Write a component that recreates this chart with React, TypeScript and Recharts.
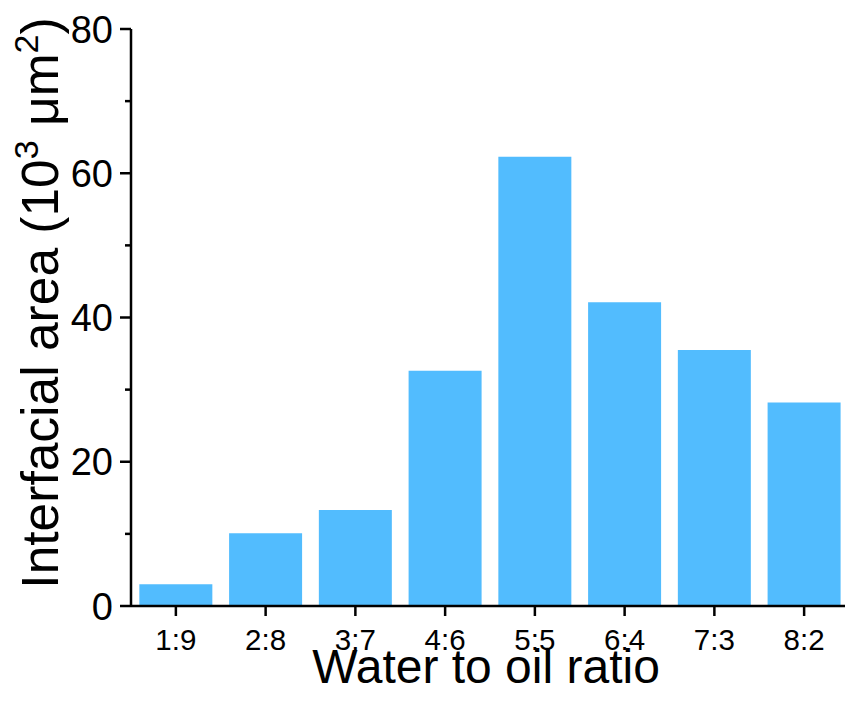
import React from "react";
import { Bar, BarChart, Label, XAxis, YAxis } from "recharts";

const ratios = ["1:9", "2:8", "3:7", "4:6", "5:5", "6:4", "7:3", "8:2"];
const areas = [3.0, 10.1, 13.3, 32.6, 62.3, 42.1, 35.5, 28.2];
const yTicks = [0, 10, 20, 30, 40, 50, 60, 70, 80];

const data = ratios.map((ratio, i) => ({ ratio, area: areas[i] }));

const FONT = "Arial, 'Liberation Sans', sans-serif";
const AXIS = 2.5;

function YTick(props: any) {
  const { x, y, payload } = props;
  const axisX = x + 18;
  const major = payload.value % 20 === 0;
  return (
    <g>
      <line x1={axisX - (major ? 11 : 6)} x2={axisX} y1={y} y2={y} stroke="#000" strokeWidth={AXIS} />
      {major && (
        <text x={x} y={y} dy="0.36em" textAnchor="end" fontSize={38} fontFamily={FONT} fill="#000">
          {payload.value}
        </text>
      )}
    </g>
  );
}

function XTick(props: any) {
  const { x, y, payload } = props;
  return (
    <text x={x} y={y + 32} textAnchor="middle" fontSize={29.5} fontFamily={FONT} fill="#000">
      {payload.value}
    </text>
  );
}

function YTitle() {
  const cx = 58;
  const cy = 303;
  return (
    <text
      x={cx}
      y={cy}
      transform={`rotate(-90, ${cx}, ${cy})`}
      textAnchor="middle"
      fontSize={51.5}
      fontFamily={FONT}
      fill="#000"
    >
      Interfacial area (10
      <tspan dy={-20} fontSize={34}>3</tspan>
      <tspan dy={20}> μm</tspan>
      <tspan dy={-20} fontSize={34}>2</tspan>
      <tspan dy={20}>)</tspan>
    </text>
  );
}

function XTitle(props: any) {
  const vb = props.viewBox;
  return (
    <text x={vb.x + vb.width / 2 - 4} y={vb.y + 77} textAnchor="middle" fontSize={48} fontFamily={FONT} fill="#000">
      Water to oil ratio
    </text>
  );
}

export default function App() {
  return (
    <div style={{ position: "absolute", left: 0, top: 0, width: 845, height: 704, overflow: "hidden", background: "#fff" }}>
      <BarChart width={870} height={704} data={data} margin={{ top: 29, right: 21, bottom: 0, left: 0 }} barCategoryGap="9.3%">
        <XAxis
          xAxisId="main"
          dataKey="ratio"
          height={98}
          tickSize={10}
          tickMargin={2}
          axisLine={{ stroke: "#000", strokeWidth: AXIS }}
          tickLine={{ stroke: "#000", strokeWidth: AXIS }}
          tick={<XTick />}
          interval={0}
        >
          <Label content={<XTitle />} />
        </XAxis>
        <XAxis
          xAxisId="top"
          dataKey="ratio"
          orientation="top"
          height={0}
          tick={false}
          tickLine={false}
          axisLine={{ stroke: "#000", strokeWidth: AXIS }}
        />
        <YAxis
          domain={[0, 80]}
          ticks={yTicks}
          width={131}
          tickSize={10}
          tickMargin={8}
          interval={0}
          tickLine={false}
          axisLine={{ stroke: "#000", strokeWidth: AXIS }}
          tick={<YTick />}
        >
          <Label content={<YTitle />} />
        </YAxis>
        <Bar xAxisId="main" dataKey="area" fill="#52BCFE" isAnimationActive={false} />
      </BarChart>
    </div>
  );
}
